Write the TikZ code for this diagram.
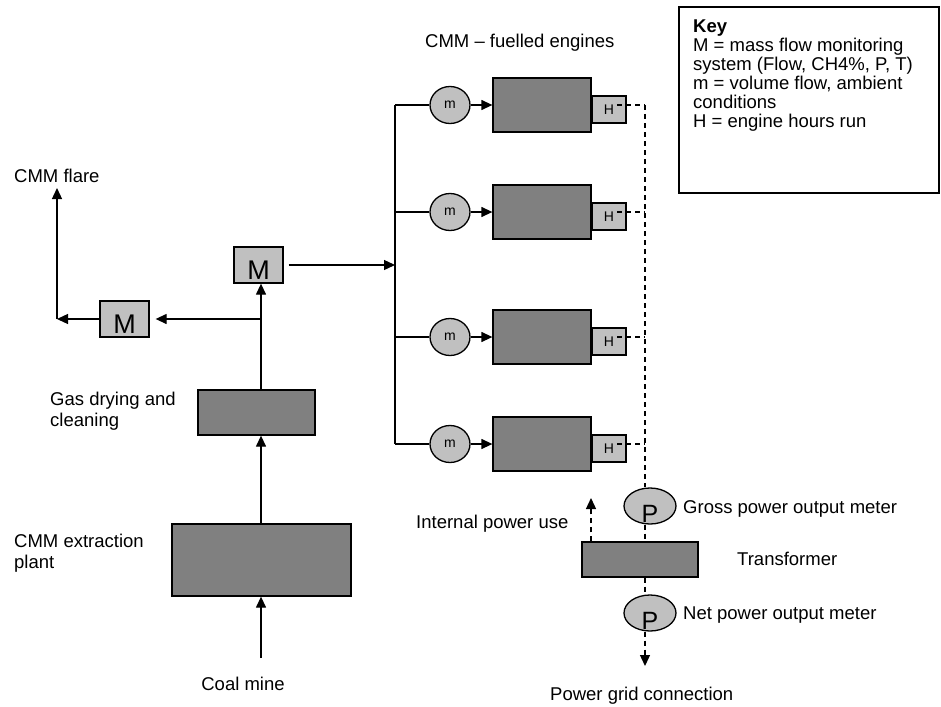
\documentclass[tikz,border=0pt]{standalone}
\usepackage{fontspec}
\setmainfont{Liberation Sans}
\usetikzlibrary{arrows.meta,shapes.geometric}
\definecolor{boxgray}{HTML}{808080}
\definecolor{lightfill}{HTML}{C0C0C0}
\begin{document}
\begin{tikzpicture}[x=1pt,y=-1pt,
  every node/.style={inner sep=0pt},
  lbl/.style={font=\fontsize{18.5}{21}\selectfont, align=left},
  keytext/.style={font=\fontsize{18.5}{19}\selectfont, align=left},
  flow/.style={line width=1.3pt},
  tip/.style={-{Triangle[length=11pt,width=10pt]}},
  arr/.style={flow,tip},
  pwr/.style={line width=1.3pt, dash pattern=on 5pt off 4pt},
  pwrarr/.style={pwr,tip},
  darkbox/.style={draw, line width=1.3pt, fill=boxgray, rectangle},
  engine/.style={darkbox, minimum width=98pt, minimum height=54pt},
  hbox/.style={draw, line width=1.3pt, fill=lightfill, rectangle, minimum width=34pt, minimum height=27pt, font=\fontsize{14}{14}\selectfont},
  mbox/.style={draw, line width=1.3pt, fill=lightfill, rectangle, minimum width=49pt, minimum height=36pt},
  bigletter/.style={font=\fontsize{27}{27}\selectfont},
  mbub/.style={draw, line width=1.3pt, fill=lightfill, ellipse, minimum width=40pt, minimum height=37pt, font=\fontsize{14}{14}\selectfont},
  pbub/.style={draw, line width=1.3pt, fill=lightfill, ellipse, minimum width=52pt, minimum height=36pt},
  pletter/.style={font=\fontsize{25}{25}\selectfont}
]
\useasboundingbox (0,0) rectangle (941,706);

% Key
\node[draw, line width=1.3pt, rectangle, minimum width=260pt, minimum height=186pt] (key) at (809,100) {};
\node[keytext, anchor=north west] (keytxt) at (693,20) {\textbf{Key}\\M = mass flow monitoring\\system (Flow, CH4\%, P, T)\\m = volume flow, ambient\\conditions\\H = engine hours run};

% Left chain
\node[darkbox, minimum width=179pt, minimum height=72pt] (ext) at (261.5,560) {};
\node[darkbox, minimum width=117pt, minimum height=45pt] (gas) at (256.5,412.5) {};
\node[mbox] (m1) at (258.5,265) {};
\node[bigletter] (m1l) at ([yshift=-5pt]m1.center) {M};
\node[mbox] (m2) at (124.5,319) {};
\node[bigletter] (m2l) at ([yshift=-5pt]m2.center) {M};

\node[lbl, anchor=base west] (flarel) at (14,182) {CMM flare};
\node[lbl, anchor=north west] (gasl) at (50,391.5) {Gas drying and\\cleaning};
\node[lbl, anchor=north west] (extl) at (14,533.5) {CMM extraction\\plant};
\node[lbl, anchor=base] (coall) at (243,690) {Coal mine};
\node[lbl, anchor=base west] (engl) at (425,48) {CMM -- fuelled engines};

\coordinate (vx) at (261,0);
\coordinate (coalin) at (261,658);
\coordinate (br) at (261,319);
\coordinate (flc) at (57,319);
\coordinate (fltop) at (57,188);
\coordinate (tj) at (395,265);

\draw[arr] (coalin) -- (ext.south -| vx);
\draw[arr] (vx |- ext.north) -- (vx |- gas.south);
\draw[arr] (vx |- gas.north) -- (vx |- m1.south);
\draw[arr, shorten >=6pt] (br) -- (m2.east);
\draw[arr] (m2.west) -- (flc);
\draw[arr] (flc) -- (fltop);
\draw[arr, shorten <=5pt] (m1.east |- tj) -- (tj);

% Power chain nodes
\node[pbub] (gross) at (650,506) {};
\node[pletter] (grossl) at ([yshift=-8pt]gross.center) {P};
\node[darkbox, minimum width=116pt, minimum height=35pt] (trans) at (640,559.5) {};
\node[pbub] (net) at (650,613) {};
\node[pletter] (netl) at ([yshift=-8pt]net.center) {P};

\node[lbl, anchor=base west] (grossdesc) at (683,513) {Gross power output meter};
\node[lbl, anchor=base west] (transl) at (737,565) {Transformer};
\node[lbl, anchor=base west] (netdesc) at (683,619) {Net power output meter};
\node[lbl, anchor=base west] (intl) at (416,528) {Internal power use};
\node[lbl, anchor=base west] (gridl) at (550,700) {Power grid connection};

\coordinate (intop) at (591,498);
\coordinate (gridtip) at (645,666);

% Engines
\foreach \i/\y in {1/105,2/212,3/337,4/444}{
  \node[mbub] (mm\i) at (450,\y) {m};
  \node[engine] (e\i) at (542,\y) {};
  \node[hbox] (h\i) at (609,\y+4.5) {\raisebox{-1.5pt}{H}};
  \coordinate (t\i) at (395,\y);
  \coordinate (hs\i) at (617,\y);
  \coordinate (d\i) at (645,\y);
  \draw[flow] (t\i) -- (mm\i.west);
  \draw[arr] (mm\i.east) -- (e\i.west);
  \draw[pwr] (hs\i) -- (d\i);
}
\draw[flow] (t1) -- (t4);

\draw[pwr] (d1) -- (d1 |- gross.north);
\draw[pwr] (d1 |- gross.south) -- (d1 |- trans.north);
\draw[pwr] (d1 |- trans.south) -- (d1 |- net.north);
\draw[pwrarr] (d1 |- net.south) -- (gridtip);
\draw[pwrarr] (intop |- trans.north) -- (intop);
\end{tikzpicture}
\end{document}
